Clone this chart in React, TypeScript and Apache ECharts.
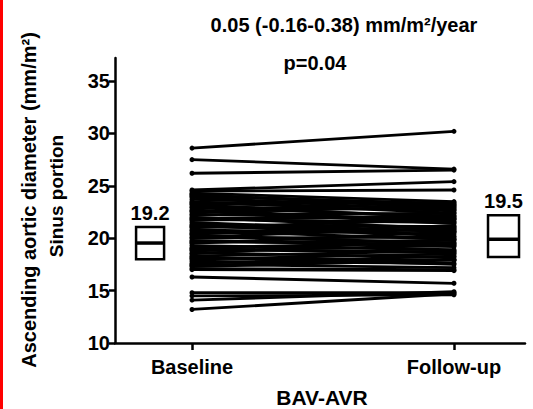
import React, { useEffect, useRef } from "react";
import * as echarts from "echarts";

const categories = ["Baseline", "Follow-up"];
const categoryX = [1, 2];
const yTicks = [10, 15, 20, 25, 30, 35];

const baseline = [
  28.6, 27.5, 26.2, 24.6, 24.5, 24.3, 24.2, 24.0, 23.9, 23.7, 23.5, 23.4, 23.2, 23.0, 22.9,
  22.7, 22.5, 22.3, 22.2, 22.0, 21.8, 21.7, 21.5, 21.3, 21.2, 21.0, 20.8, 20.7, 20.5, 20.3,
  20.1, 20.0, 19.8, 19.6, 19.5, 19.3, 19.1, 19.0, 18.8, 18.6, 18.5, 18.3, 18.1, 18.0, 17.8,
  17.6, 17.5, 17.3, 17.1, 17.0, 16.3, 14.8, 14.5, 14.1, 13.2,
  24.1, 23.3, 22.6, 21.9, 21.1, 20.4, 19.7, 18.9, 18.2, 17.4,
];
const followUp = [
  30.2, 26.6, 26.5, 25.4, 24.6, 23.5, 22.8, 23.3, 22.6, 23.1, 22.4, 23.4, 21.9, 22.7, 22.1,
  21.6, 23.0, 21.8, 22.4, 20.9, 21.5, 22.2, 20.6, 21.1, 20.2, 21.8, 20.4, 19.9, 20.8, 19.5,
  21.0, 20.1, 19.2, 19.8, 20.6, 18.9, 19.6, 18.6, 19.3, 18.2, 19.9, 18.8, 17.9, 18.5, 17.6,
  18.3, 17.2, 17.9, 17.0, 16.9, 15.7, 14.8, 14.6, 14.9, 14.7,
  23.2, 22.9, 21.4, 22.0, 20.7, 21.2, 19.4, 18.7, 17.5, 18.0,
];

// summary boxes: [x position, low, median, high]
const boxStats = [
  [0.84, 18.0, 19.54, 21.07],
  [2.189, 18.2, 19.9, 22.2],
];
const boxLabels = ["19.2", "19.5"];
const boxWidths = [28, 31];

const titleText = "0.05 (-0.16-0.38) mm/m²/year";
const pText = "p=0.04";
const yName1 = "Ascending aortic diameter (mm/m²)";
const yName2 = "Sinus portion";
const xName = "BAV-AVR";

const FONT = "Arial, 'Liberation Sans', sans-serif";

export default function App() {
  const ref = useRef<HTMLDivElement>(null);
  useEffect(() => {
    if (!ref.current) return;
    const chart = echarts.init(ref.current, null, { renderer: "svg" });
    const lineSeries = baseline.map((b, i) => ({
      type: "line",
      data: [
        [categoryX[0], b],
        [categoryX[1], followUp[i]],
      ],
      symbol: "circle",
      symbolSize: 5,
      lineStyle: { color: "#000", width: 2.8 },
      itemStyle: { color: "#000" },
      silent: true,
      z: 2,
    }));
    chart.setOption({
      animation: false,
      backgroundColor: "#fff",
      grid: { left: 115, right: 8, top: 58, bottom: 66 },
      xAxis: {
        type: "value",
        min: 0.7061,
        max: 2.271,
        splitLine: { show: false },
        axisLine: { show: true, onZero: false, lineStyle: { color: "#000", width: 2.5 } },
        axisTick: { show: true, customValues: categoryX, length: 7, lineStyle: { color: "#000", width: 2.5 } },
        axisLabel: {
          customValues: categoryX,
          formatter: (v: number) => categories[categoryX.indexOf(Math.round(v))] ?? "",
          margin: 14,
          color: "#000",
          fontSize: 20,
          fontWeight: "bold",
          fontFamily: FONT,
        },
      },
      yAxis: {
        type: "value",
        min: 10,
        max: 37.2,
        interval: 5,
        splitLine: { show: false },
        axisLine: { show: true, lineStyle: { color: "#000", width: 2.5 } },
        axisTick: { show: true, customValues: yTicks, length: 6, lineStyle: { color: "#000", width: 2.5 } },
        axisLabel: {
          customValues: yTicks,
          margin: 5,
          color: "#000",
          fontSize: 20,
          fontWeight: "bold",
          fontFamily: FONT,
        },
      },
      series: [
        ...lineSeries,
        {
          type: "custom",
          data: boxStats,
          encode: { x: 0, y: [1, 2, 3] },
          clip: false,
          z: 5,
          renderItem: (params: any, api: any) => {
            const idx = params.dataIndex;
            const x = api.value(0);
            const pLo = api.coord([x, api.value(1)]);
            const pMed = api.coord([x, api.value(2)]);
            const pHi = api.coord([x, api.value(3)]);
            const w = boxWidths[idx];
            return {
              type: "group",
              children: [
                {
                  type: "rect",
                  shape: { x: pLo[0] - w / 2, y: pHi[1], width: w, height: pLo[1] - pHi[1] },
                  style: { fill: "#fff", stroke: "#000", lineWidth: 2.5 },
                },
                {
                  type: "line",
                  shape: { x1: pLo[0] - w / 2, y1: pMed[1], x2: pLo[0] + w / 2, y2: pMed[1] },
                  style: { stroke: "#000", lineWidth: 3.5 },
                },
                {
                  type: "text",
                  x: pLo[0],
                  y: pHi[1] - 14,
                  style: {
                    text: boxLabels[idx],
                    align: "center",
                    verticalAlign: "middle",
                    fontSize: 20,
                    fontWeight: "bold",
                    fontFamily: FONT,
                    fill: "#000",
                  },
                },
              ],
            };
          },
        },
      ],
      graphic: [
        { type: "rect", left: 0, top: 0, shape: { width: 3, height: 409 }, style: { fill: "#ff0000" } },
        {
          type: "text",
          x: 344,
          y: 25,
          style: { text: titleText, align: "center", verticalAlign: "middle", fontSize: 20, fontWeight: "bold", fontFamily: FONT, fill: "#000" },
        },
        {
          type: "text",
          x: 315,
          y: 63,
          style: { text: pText, align: "center", verticalAlign: "middle", fontSize: 20, fontWeight: "bold", fontFamily: FONT, fill: "#000" },
        },
        {
          type: "text",
          x: 29,
          y: 200,
          rotation: Math.PI / 2,
          style: { text: yName1, align: "center", verticalAlign: "middle", fontSize: 20, fontWeight: "bold", fontFamily: FONT, fill: "#000" },
        },
        {
          type: "text",
          x: 56,
          y: 196,
          rotation: Math.PI / 2,
          style: { text: yName2, align: "center", verticalAlign: "middle", fontSize: 19, fontWeight: "bold", fontFamily: FONT, fill: "#000" },
        },
        {
          type: "text",
          x: 322,
          y: 397,
          style: { text: xName, align: "center", verticalAlign: "middle", fontSize: 21, fontWeight: "bold", fontFamily: FONT, fill: "#000" },
        },
      ],
    });
    return () => chart.dispose();
  }, []);
  return <div ref={ref} style={{ position: "fixed", left: 0, top: 0, width: 533, height: 409 }} />;
}
